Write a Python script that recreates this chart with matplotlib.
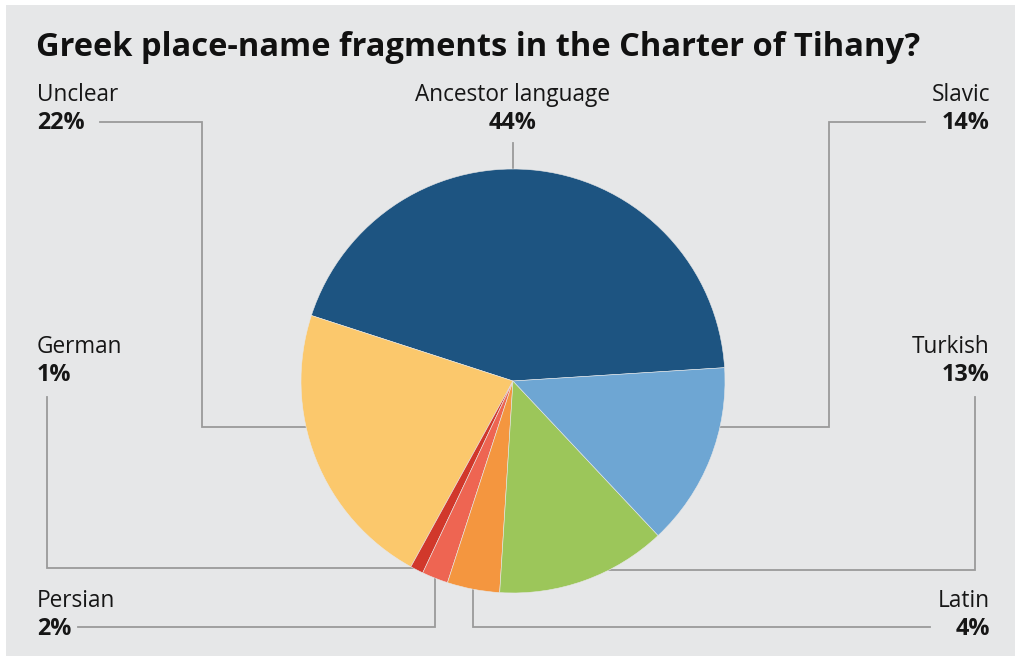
import numpy as np
import matplotlib.pyplot as plt
from matplotlib.patches import Rectangle

# share of place-name fragments by origin, counter-clockwise from the top slice
labels = ['Ancestor language', 'Unclear', 'German', 'Persian', 'Latin', 'Turkish', 'Slavic']
shares = [44, 22, 1, 2, 4, 13, 14]
colors = ['#1d5481', '#fbc86c', '#d1382b', '#ee6552', '#f4963f', '#9cc65a', '#6ea6d3']

title = 'Greek place-name fragments in the Charter of Tihany?'
bg = '#e6e7e8'
line_c = '#9a9a9a'

W, H = 1015, 656
fig = plt.figure(figsize=(W / 100, H / 100), dpi=100)
fig.patch.set_facecolor('white')
plt.rcParams['font.family'] = ['Open Sans', 'DejaVu Sans']

# overlay axes in pixel coordinates for background, labels and leader lines
ov = fig.add_axes([0, 0, 1, 1])
ov.set_xlim(0, W)
ov.set_ylim(H, 0)
ov.axis('off')
ov.add_patch(Rectangle((6, 5), W, H, facecolor=bg, edgecolor='none', zorder=0))

# pie placement
cx, cy, r = 513, 381, 212
ax = fig.add_axes([(cx - r) / W, (H - cy - r) / H, 2 * r / W, 2 * r / H])
ax.pie(shares, colors=colors, startangle=3.6, counterclock=True,
       wedgeprops=dict(linewidth=0.4, edgecolor='#e8e8e8'))
ax.set_xlim(-1, 1)
ax.set_ylim(-1, 1)
ax.set_aspect('auto')
ax.patch.set_alpha(0)
ax.set_zorder(2)
ov.set_zorder(1)

# label layout: (x, y of name line, alignment, leader path ending towards pie centre)
layout = {
    'Unclear': (37, 94, 'left', [(100, 122), (202, 122), (202, 427), (cx, 427)]),
    'Ancestor language': (cx, 94, 'center', [(cx, 143), (cx, cy)]),
    'Slavic': (990, 94, 'right', [(925, 122), (829, 122), (829, 427), (cx, 427)]),
    'German': (37, 346, 'left', [(47, 397), (47, 568), (cx, 568)]),
    'Turkish': (990, 346, 'right', [(975, 397), (975, 570), (cx, 570)]),
    'Persian': (37, 600, 'left', [(78, 627), (435, 627), (435, cy)]),
    'Latin': (990, 600, 'right', [(930, 627), (473, 627), (473, cy)]),
}

for name, share in zip(labels, shares):
    x, y, ha, path = layout[name]
    ov.text(x, y + 1, name, ha=ha, va='center', fontsize=16.3, color='#161616')
    ov.text(x, y + 29, f'{share}%', ha=ha, va='center', fontsize=16.8,
            fontweight='bold', color='#161616')
    px, py = zip(*path)
    ov.plot(px, py, color=line_c, lw=1.3, solid_joinstyle='miter')

ov.text(36, 47, title, ha='left', va='center', fontsize=23.5, fontweight='bold', color='#111111')

fig.savefig('out.png', dpi=100, facecolor=fig.get_facecolor())
